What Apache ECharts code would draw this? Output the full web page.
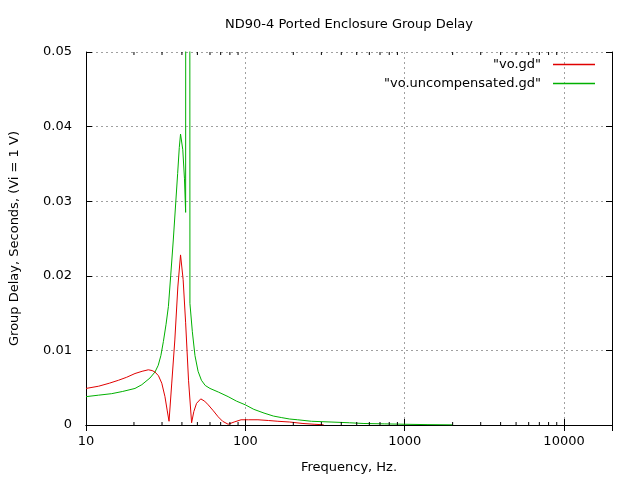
<!DOCTYPE html>
<html>
<head>
<meta charset="utf-8">
<script src="https://cdn.jsdelivr.net/npm/echarts@6/dist/echarts.min.js"></script>
<style>
html,body{margin:0;padding:0;background:#fff;}
#chart{width:640px;height:480px;}
</style>
</head>
<body>
<div id="chart"></div>
<script>
// ---- data ----
const redName = '"vo.gd"';
const greenName = '"vo.uncompensated.gd"';

const freqRed = [10, 12, 14, 16, 18, 20.3, 22.5, 24.6, 26, 27.1, 28.5, 29.9, 31.3, 32.3, 33.2, 34.5, 36.1, 37.7, 39.2, 40.7, 42.2, 44, 46, 47.5, 49.4, 52.5, 55.5, 58.5, 63, 67.5, 72, 78, 85, 94, 105, 120, 140, 160, 190, 230, 270, 310];
const valRed  = [0.0049, 0.0052, 0.0056, 0.0060, 0.0064, 0.0069, 0.0072, 0.0074, 0.0073, 0.0071, 0.0066, 0.0056, 0.0038, 0.0020, 0.0005, 0.0055, 0.0114, 0.0185, 0.0228, 0.0195, 0.0137, 0.0060, 0.0003, 0.0018, 0.0029, 0.0035, 0.0032, 0.0027, 0.0019, 0.0011, 0.0005, 0.0001, 0.0004, 0.0007, 0.0007, 0.0007, 0.0006, 0.0005, 0.0004, 0.0002, 0.0001, 0.00003];

const freqGreen = [10, 12, 14.5, 17, 20.3, 22.4, 25.2, 27.1, 28.4, 29.5, 30.6, 31.8, 32.9, 34, 35.3, 37.6, 38.5, 39.2, 40.5, 41.5, 42.2, 42.5, 43.5, 44.6, 44.9, 46.5, 48.3, 50.5, 53, 56, 60, 68, 78, 88, 100, 113, 131, 150, 168, 190, 213, 260, 345, 450, 555, 750, 1000, 1400, 2000];
const valGreen  = [0.0038, 0.0040, 0.0042, 0.0045, 0.0049, 0.0054, 0.0063, 0.0071, 0.0080, 0.0093, 0.0112, 0.0135, 0.0159, 0.0200, 0.0248, 0.0337, 0.0372, 0.0390, 0.0369, 0.0330, 0.0285, 0.2, 1.0, 0.2, 0.0163, 0.0125, 0.0093, 0.0072, 0.0060, 0.0053, 0.0049, 0.0044, 0.0038, 0.0032, 0.0027, 0.0021, 0.0016, 0.0012, 0.0010, 0.0008, 0.0007, 0.0005, 0.0004, 0.0003, 0.0002, 0.00015, 0.0001, 0.00005, 0.00002];

const minorTicks = [20, 30, 40, 50, 60, 70, 80, 90, 200, 300, 400, 500, 600, 700, 800, 900, 2000, 3000, 4000, 5000, 6000, 7000, 8000, 9000];

const titleText = 'ND90-4 Ported Enclosure Group Delay';
const xName = 'Frequency, Hz.';
const yName = 'Group Delay, Seconds, (Vi = 1 V)';

// ---- chart ----
const FONT = 'DejaVu Sans';
const FS = 13;
const chart = echarts.init(document.getElementById('chart'), null, {renderer: 'canvas'});

function zip(a, b) { return a.map((v, i) => [v, b[i]]); }

const axisLineStyle = {show: true, lineStyle: {color: '#000', width: 1}};
const gridLine = {show: true, lineStyle: {color: '#a0a0a0', type: [2, 3], width: 1}};

const option = {
  backgroundColor: '#fff',
  animation: false,
  textStyle: {fontFamily: FONT},
  grid: {left: 84, right: 28, top: 52, bottom: 55, containLabel: false},
  legend: {
    orient: 'vertical',
    right: 40,
    top: 53,
    align: 'right',
    itemWidth: 42,
    itemHeight: 1.5,
    itemGap: 6,
    icon: 'rect',
    textStyle: {fontFamily: FONT, fontSize: FS, color: '#000', padding: [0, 7, 0, 0]},
    data: [redName, greenName]
  },
  xAxis: [{
    type: 'log',
    logBase: 10,
    min: 10,
    max: 20000,
    position: 'bottom',
    name: xName,
    nameLocation: 'middle',
    nameGap: 36,
    nameTextStyle: {fontFamily: FONT, fontSize: FS, color: '#000'},
    axisLine: axisLineStyle,
    axisTick: {show: true, inside: true, length: 6, lineStyle: {color: '#000'}},
    axisLabel: {
      fontFamily: FONT, fontSize: FS, color: '#000', margin: 10,
      formatter: function (v) {
        const l = Math.log10(v);
        return Math.abs(l - Math.round(l)) < 1e-6 ? String(Math.round(v)) : '';
      }
    },
    splitLine: gridLine
  }, {
    type: 'log',
    logBase: 10,
    min: 10,
    max: 20000,
    position: 'top',
    name: titleText,
    nameLocation: 'middle',
    nameGap: 21,
    nameTextStyle: {fontFamily: FONT, fontSize: FS, color: '#000'},
    axisLine: axisLineStyle,
    axisTick: {show: true, inside: true, length: 6, lineStyle: {color: '#000'}},
    axisLabel: {show: false},
    splitLine: {show: false}
  }],
  yAxis: [{
    type: 'value',
    min: 0,
    max: 0.05,
    interval: 0.01,
    position: 'left',
    name: yName,
    nameLocation: 'middle',
    nameGap: 65,
    nameTextStyle: {fontFamily: FONT, fontSize: FS, color: '#000'},
    axisLine: axisLineStyle,
    axisTick: {show: true, inside: true, length: 6, lineStyle: {color: '#000'}},
    axisLabel: {fontFamily: FONT, fontSize: FS, color: '#000', margin: 14},
    splitLine: gridLine
  }, {
    type: 'value',
    min: 0,
    max: 0.05,
    interval: 0.01,
    position: 'right',
    axisLine: axisLineStyle,
    axisTick: {show: true, inside: true, length: 6, lineStyle: {color: '#000'}},
    axisLabel: {show: false},
    splitLine: {show: false}
  }],
  series: [{
    name: redName,
    type: 'line',
    xAxisIndex: 0,
    yAxisIndex: 0,
    data: zip(freqRed, valRed),
    showSymbol: false,
    symbol: 'none',
    smooth: false,
    clip: true,
    lineStyle: {color: '#e00000', width: 1},
    itemStyle: {color: '#e00000'},
    z: 3
  }, {
    name: greenName,
    type: 'line',
    xAxisIndex: 0,
    yAxisIndex: 0,
    data: zip(freqGreen, valGreen),
    showSymbol: false,
    symbol: 'none',
    smooth: false,
    clip: true,
    lineStyle: {color: '#00b000', width: 1},
    itemStyle: {color: '#00b000'},
    z: 2
  }, {
    name: 'minorTicks',
    type: 'custom',
    xAxisIndex: 0,
    yAxisIndex: 0,
    silent: true,
    clip: false,
    data: minorTicks.map(f => [f]),
    renderItem: function (params, api) {
      const f = api.value(0);
      const b = api.coord([f, 0]);
      const t = api.coord([f, 0.05]);
      return {
        type: 'group',
        children: [
          {type: 'line', shape: {x1: b[0], y1: b[1], x2: b[0], y2: b[1] - 3}, style: {stroke: '#000', lineWidth: 1}},
          {type: 'line', shape: {x1: t[0], y1: t[1], x2: t[0], y2: t[1] + 3}, style: {stroke: '#000', lineWidth: 1}}
        ]
      };
    },
    z: 4
  }]
};
chart.setOption(option);
</script>
</body>
</html>
